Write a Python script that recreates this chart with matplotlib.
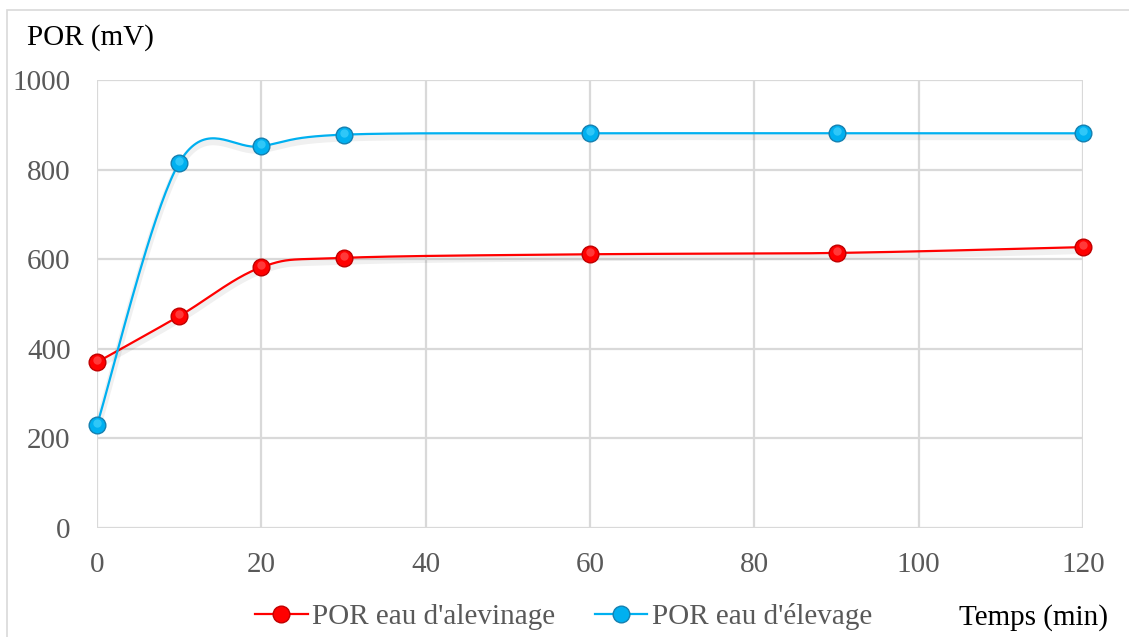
import numpy as np
import matplotlib.pyplot as plt
import matplotlib.patheffects as pe
from matplotlib.patches import Rectangle
from matplotlib.transforms import ScaledTranslation

# POR measurements over time
temps = [0, 10, 20, 30, 60, 90, 120]
por_alevinage = [370, 473, 582, 603, 611, 614, 627]
por_elevage = [230, 815, 852, 878, 881, 881, 881]

x_ticks = [0, 20, 40, 60, 80, 100, 120]
y_ticks = [0, 200, 400, 600, 800, 1000]

FONT = "Liberation Serif"
GREY_TXT = "#595959"


def smooth_curve(ax, xs, ys, n=40):
    # Bezier smoothing done in screen space, like spreadsheet "smoothed lines"
    pts = ax.transData.transform(np.column_stack([xs, ys]))
    out = []
    for i in range(len(pts) - 1):
        p0 = pts[max(i - 1, 0)]
        p1 = pts[i]
        p2 = pts[i + 1]
        p3 = pts[min(i + 2, len(pts) - 1)]
        c1 = p1 + (p2 - p0) / 6.0
        c2 = p2 - (p3 - p1) / 6.0
        t = np.linspace(0, 1, n)[:, None]
        seg = ((1 - t) ** 3 * p1 + 3 * (1 - t) ** 2 * t * c1
               + 3 * (1 - t) * t ** 2 * c2 + t ** 3 * p2)
        out.append(seg if i == 0 else seg[1:])
    out = np.vstack(out)
    data = ax.transData.inverted().transform(out)
    return data[:, 0], data[:, 1]


W, H = 1129, 637
fig = plt.figure(figsize=(W / 100, H / 100), dpi=100)
ax = fig.add_axes([97 / W, 1 - 528 / H, (1083 - 97) / W, (528 - 80) / H])
ax.set_xlim(0, 120)
ax.set_ylim(0, 1000)

for s in ax.spines.values():
    s.set_visible(False)
ax.set_xticks(x_ticks)
ax.set_yticks(y_ticks)
ax.grid(True, color="#d9d9d9", linewidth=1.6)
ax.set_axisbelow(True)
ax.tick_params(length=0, labelsize=21, labelcolor=GREY_TXT)
ax.tick_params(axis="x", pad=17)
ax.tick_params(axis="y", pad=19)
for lab in ax.get_xticklabels() + ax.get_yticklabels():
    lab.set_fontfamily(FONT)

shadow = [pe.SimpleLineShadow(offset=(0, -2.5), shadow_color="#000000", alpha=0.06, linewidth=5),
          pe.Normal()]
# shift for the highlight drawn on top of each marker
lift = ax.transData + ScaledTranslation(0, 2 / 100, fig.dpi_scale_trans)

series = [
    (por_alevinage, "#ff0000", "#c00000", "#ff6060", "POR eau d'alevinage"),
    (por_elevage, "#00b0f0", "#1580b0", "#50d8ff", "POR eau d'élevage"),
]
handles = []
for ys, col, edge, light, name in series:
    sx, sy = smooth_curve(ax, temps, ys)
    ax.plot(sx, sy, color=col, linewidth=1.6, clip_on=False, path_effects=shadow, zorder=3)
    ax.plot(temps, ys, linestyle="none", marker="o", markersize=12,
            markerfacecolor=col, markeredgecolor=edge, markeredgewidth=1.0,
            clip_on=False, zorder=4)
    ax.plot(temps, ys, linestyle="none", marker="o", markersize=6,
            markerfacecolor=light, markeredgewidth=0, alpha=0.6,
            transform=lift, clip_on=False, zorder=5)
    h, = ax.plot([], [], color=col, linewidth=1.6, marker="o", markersize=12,
                 markerfacecolor=col, markeredgecolor=edge, markeredgewidth=1.0, label=name)
    handles.append(h)

leg = fig.legend(handles=handles, loc="center left", bbox_to_anchor=(255 / W, 1 - 617 / H),
                 ncol=2, frameon=False, borderpad=0, borderaxespad=0,
                 handlelength=1.8, handletextpad=0.17, columnspacing=1.35,
                 prop={"family": FONT, "size": 21})
for t in leg.get_texts():
    t.set_color(GREY_TXT)

fig.text(27 / W, 1 - 38 / H, "POR (mV)", fontsize=21, family=FONT, color="black",
         ha="left", va="center")
fig.text(1108 / W, 1 - 618 / H, "Temps (min)", fontsize=21, family=FONT, color="black",
         ha="right", va="center")

# outer chart border (right and bottom edges fall outside the canvas)
fig.patches.append(Rectangle((7 / W, -0.05), 1.1, 1 - 10 / H + 0.05,
                             transform=fig.transFigure, fill=False,
                             edgecolor="#d9d9d9", linewidth=1.2))

fig.savefig("out.png", dpi=100)
